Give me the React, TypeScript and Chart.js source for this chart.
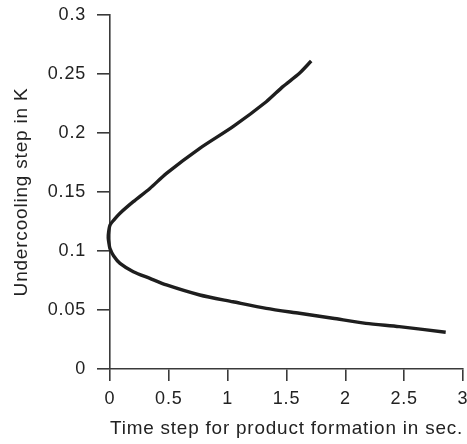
import React, { useEffect, useRef } from "react";
import { Chart, registerables } from "chart.js";

Chart.register(...registerables);

const timeStep: number[] = [
  1.71, 1.61, 1.469, 1.328, 1.045, 0.763, 0.48, 0.339, 0.198, 0.085, 0.03, 0.0,
  -0.012, -0.015, -0.008, 0.0, 0.03, 0.085, 0.198, 0.339, 0.48, 0.763, 1.045,
  1.328, 1.61, 1.893, 2.175, 2.458, 2.853,
];
const undercooling: number[] = [
  0.261, 0.2506, 0.2393, 0.2265, 0.2054, 0.187, 0.1658, 0.153, 0.1418, 0.132,
  0.126, 0.122, 0.116, 0.111, 0.106, 0.102, 0.096, 0.0895, 0.0825, 0.0768,
  0.0712, 0.0627, 0.057, 0.0514, 0.0472, 0.043, 0.0387, 0.0359, 0.0311,
];
const xTicks: number[] = [0, 0.5, 1, 1.5, 2, 2.5, 3];
const yTicks: number[] = [0, 0.05, 0.1, 0.15, 0.2, 0.25, 0.3];
const xTitle = "Time step for product formation in sec.";
const yTitle = "Undercooling step in K";

const spacingPlugin = {
  id: "spacing",
  beforeUpdate(chart: any) {
    (chart.ctx as any).letterSpacing = "0.8px";
  },
  beforeDraw(chart: any) {
    (chart.ctx as any).letterSpacing = "0.8px";
  },
};

export default function App() {
  const ref = useRef<HTMLCanvasElement | null>(null);
  useEffect(() => {
    if (!ref.current) return;
    const axisColor = "#3a3a3a";
    const fam = "'Liberation Sans', Arial, sans-serif";
    const chart = new Chart(ref.current, {
      type: "scatter",
      data: {
        datasets: [
          {
            data: timeStep.map((x, i) => ({ x, y: undercooling[i] })),
            showLine: true,
            borderColor: "#1e1e1e",
            borderWidth: 3.4,
            pointRadius: 0,
            tension: 0.25,
            clip: false as any,
          },
        ],
      },
      plugins: [spacingPlugin],
      options: {
        animation: false,
        responsive: false,
        maintainAspectRatio: false,
        layout: { padding: { top: 15, right: 0, left: 0, bottom: 0 } },
        plugins: { legend: { display: false }, tooltip: { enabled: false } },
        scales: {
          x: {
            type: "linear",
            min: 0,
            max: 3,
            afterBuildTicks: (s: any) => {
              s.ticks = xTicks.map((v) => ({ value: v }));
            },
            afterFit: (s: any) => {
              s.height = 75;
              s.paddingRight = 4;
              s.paddingLeft = 0;
            },
            ticks: {
              color: "#222",
              font: { family: fam, size: 18 },
              padding: 7,
              maxRotation: 0,
              callback: (v: any) => String(v),
            },
            grid: {
              display: true,
              drawOnChartArea: false,
              drawTicks: true,
              tickLength: 12,
              color: axisColor,
              lineWidth: 1.6,
            },
            border: { display: true, color: axisColor, width: 1.6 },
            title: {
              display: true,
              text: xTitle,
              color: "#222",
              font: { family: fam, size: 19 },
              padding: { top: 2, bottom: 4 },
            },
          },
          y: {
            type: "linear",
            min: 0,
            max: 0.3,
            afterBuildTicks: (s: any) => {
              s.ticks = yTicks.map((v) => ({ value: v }));
            },
            afterFit: (s: any) => {
              s.width = 110;
              s.paddingTop = 0;
              s.paddingBottom = 0;
            },
            ticks: {
              color: "#222",
              font: { family: fam, size: 18 },
              padding: 11,
              callback: (v: any) => String(v),
            },
            grid: {
              display: true,
              drawOnChartArea: false,
              drawTicks: true,
              tickLength: 13,
              color: axisColor,
              lineWidth: 1.6,
            },
            border: { display: true, color: axisColor, width: 1.6 },
            title: {
              display: true,
              text: yTitle,
              color: "#222",
              font: { family: fam, size: 19 },
              padding: { top: 10, bottom: 0 },
            },
          },
        },
      },
    });
    return () => chart.destroy();
  }, []);
  return (
    <div style={{ position: "fixed", left: 0, top: 0, width: 467, height: 444, background: "#fff" }}>
      <canvas ref={ref} width={467} height={444} style={{ width: 467, height: 444 }} />
    </div>
  );
}
